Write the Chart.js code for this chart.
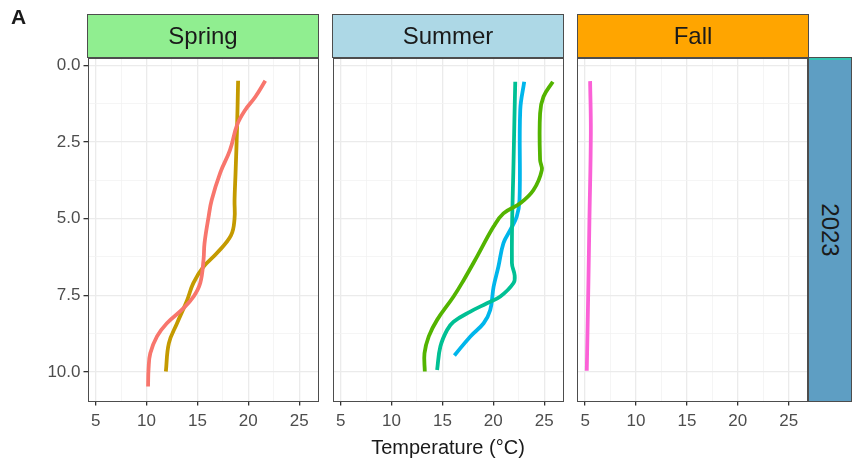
<!DOCTYPE html>
<html>
<head>
<meta charset="utf-8">
<script src="https://cdn.jsdelivr.net/npm/chart.js@4.4.1/dist/chart.umd.min.js"></script>
<style>
  body { margin: 0; background: #fff; }
  #wrap { position: relative; width: 852px; height: 460px; overflow: hidden; font-family: "Liberation Sans", Arial, sans-serif; }
  #wrap canvas { position: absolute; left: 0; top: 0; pointer-events: none; }
  .strip { position: absolute; box-sizing: border-box; border: 1px solid #4D4D4D; color: #1A1A1A;
           font-size: 24px; display: flex; align-items: center; justify-content: center; }
  .label { position: absolute; color: #1A1A1A; }
</style>
</head>
<body>
<div id="wrap">
  <canvas id="spring" width="852" height="460"></canvas>
  <canvas id="summer" width="852" height="460"></canvas>
  <canvas id="fall" width="852" height="460"></canvas>
  <div class="label" style="left:11px; top:5px; font-size:21px; font-weight:bold;">A</div>
  <div class="strip" style="left:87px; top:14px; width:232px; height:44px; background:#90EE90;">Spring</div>
  <div class="strip" style="left:332px; top:14px; width:232px; height:44px; background:#ADD8E6;">Summer</div>
  <div class="strip" style="left:577px; top:14px; width:232px; height:44px; background:#FFA500;">Fall</div>
  <div class="strip" style="left:808px; top:57px; width:44px; height:345px; background:#5E9EC3; box-shadow: inset 0 2px 0 #33C4B4;">
    <span style="transform: rotate(90deg); display:inline-block;">2023</span>
  </div>
  <div class="label" style="left:248px; width:400px; top:436px; text-align:center; font-size:20px;">Temperature (°C)</div>
</div>
<script>
// ticks (major + minor grid)
const xTicks = [7.5, 5, 10, 12.5, 15, 17.5, 20, 22.5, 25];
const xMajor = [5, 10, 15, 20, 25];
const yTicks = [0, 1.25, 2.5, 3.75, 5, 6.25, 7.5, 8.75, 10];
const yMajor = [0, 2.5, 5, 7.5, 10];

// Spring profiles (depth, temperature)
const springRedDepth = [0.51, 1.03, 1.46, 1.95, 2.77, 3.5, 4.4, 4.94, 5.8, 6.35, 7.1, 7.54, 7.92, 8.41, 8.84, 9.39, 9.9, 10.47];
const springRedTemp  = [21.67, 20.7, 19.7, 18.9, 18.2, 17.25, 16.4, 16.1, 15.7, 15.6, 15.28, 14.63, 13.64, 12.0, 11.03, 10.37, 10.2, 10.15];
const springGoldDepth = [0.51, 2.0, 3.5, 4.4, 5.0, 5.55, 6.13, 6.57, 7.1, 7.65, 8.41, 9.06, 9.98];
const springGoldTemp  = [19.0, 18.9, 18.75, 18.65, 18.65, 18.3, 16.9, 15.6, 14.6, 14.0, 13.0, 12.2, 11.9];

// Summer profiles
const summerGreenDepth = [0.54, 1.03, 1.57, 3.09, 3.42, 4.07, 4.5, 4.83, 5.26, 6.24, 7.0, 7.54, 8.3, 8.84, 9.39, 9.98];
const summerGreenTemp  = [25.85, 24.93, 24.6, 24.6, 24.77, 23.95, 22.65, 21.0, 20.03, 18.4, 17.1, 16.1, 14.48, 13.66, 13.24, 13.27];
const summerTealDepth = [0.54, 3.0, 6.45, 6.85, 7.1, 7.54, 7.76, 8.03, 8.36, 8.63, 9.17, 9.93];
const summerTealTemp  = [22.16, 22.0, 21.83, 22.1, 21.99, 20.69, 19.38, 17.75, 16.1, 15.46, 14.8, 14.48];
const summerBlueDepth = [0.54, 1.46, 4.39, 4.94, 5.37, 5.8, 6.57, 7.22, 7.98, 8.41, 8.84, 9.46];
const summerBlueTemp  = [23.04, 22.65, 22.58, 22.3, 21.67, 21.0, 20.5, 20.03, 19.7, 19.05, 17.75, 16.18];

// Fall profile
const fallPinkDepth = [0.52, 2.21, 5.05, 7.1, 8.73, 9.96];
const fallPinkTemp  = [5.49, 5.56, 5.42, 5.32, 5.23, 5.16];

function toPoints(temps, depths) {
    return temps.map((t, i) => ({ x: t, y: depths[i] }));
}

function line(temps, depths, color) {
    return {
        data: toPoints(temps, depths),
        borderColor: color,
        borderWidth: 3.8,
        showLine: true,
        pointRadius: 0,
        tension: 0.4,
        fill: false
    };
}

// panel border drawn on top, snapped to the pixel grid
const panelBorder = {
    id: 'panelBorder',
    afterDraw(chart) {
        const a = chart.chartArea;
        const ctx = chart.ctx;
        const l = Math.round(a.left) + 0.5, t = Math.round(a.top) + 0.5;
        const r = Math.round(a.right) - 0.5, b = Math.round(a.bottom) - 0.5;
        ctx.save();
        ctx.strokeStyle = '#4D4D4D';
        ctx.lineWidth = 1;
        ctx.strokeRect(l, t, r - l, b - t);
        ctx.restore();
    }
};

const tickFont = { family: '"Liberation Sans", Arial, sans-serif', size: 17 };

function makePanel(id, left, right, showY, datasets) {
    new Chart(document.getElementById(id), {
        type: 'scatter',
        data: { datasets: datasets },
        plugins: [panelBorder],
        options: {
            responsive: false,
            animation: false,
            layout: { padding: { left: showY ? 0 : left, right: 852 - right, top: 57.5, bottom: 18.5 } },
            plugins: { legend: { display: false }, tooltip: { enabled: false } },
            scales: {
                x: {
                    type: 'linear',
                    min: 4.2,
                    max: 26.9,
                    afterBuildTicks: s => { s.ticks = xTicks.map(v => ({ value: v })); },
                    afterFit: s => { s.height = 40; },
                    border: { display: false },
                    grid: {
                        color: c => xMajor.includes(c.tick.value) ? '#EBEBEB' : '#F3F3F3',
                        lineWidth: c => xMajor.includes(c.tick.value) ? 1.3 : 0.8,
                        tickColor: c => xMajor.includes(c.tick.value) ? '#333333' : 'rgba(0,0,0,0)',
                        tickLength: 4
                    },
                    ticks: {
                        font: tickFont,
                        color: '#4D4D4D',
                        padding: 6,
                        maxRotation: 0,
                        autoSkip: false,
                        callback: v => xMajor.includes(v) ? String(v) : ''
                    }
                },
                y: {
                    type: 'linear',
                    reverse: true,
                    min: -0.25,
                    max: 10.96,
                    afterBuildTicks: s => { s.ticks = yTicks.map(v => ({ value: v })); },
                    afterFit: s => { s.width = showY ? left : 0; },
                    border: { display: false },
                    grid: {
                        color: c => yMajor.includes(c.tick.value) ? '#EBEBEB' : '#F3F3F3',
                        lineWidth: c => yMajor.includes(c.tick.value) ? 1.3 : 0.8,
                        tickColor: c => yMajor.includes(c.tick.value) ? '#333333' : 'rgba(0,0,0,0)',
                        drawTicks: showY,
                        tickLength: 4
                    },
                    ticks: {
                        display: showY,
                        font: tickFont,
                        color: '#4D4D4D',
                        padding: 3,
                        autoSkip: false,
                        callback: v => yMajor.includes(v) ? v.toFixed(1) : ''
                    }
                }
            }
        }
    });
}

makePanel('spring', 87.5, 318.5, true, [
    line(springRedTemp, springRedDepth, '#F8766D'),
    line(springGoldTemp, springGoldDepth, '#C49A00')
]);
makePanel('summer', 332.5, 563.5, false, [
    line(summerGreenTemp, summerGreenDepth, '#53B400'),
    line(summerTealTemp, summerTealDepth, '#00C094'),
    line(summerBlueTemp, summerBlueDepth, '#00B6EB')
]);
makePanel('fall', 577, 808, false, [
    line(fallPinkTemp, fallPinkDepth, '#FB61D7')
]);
</script>
</body>
</html>
